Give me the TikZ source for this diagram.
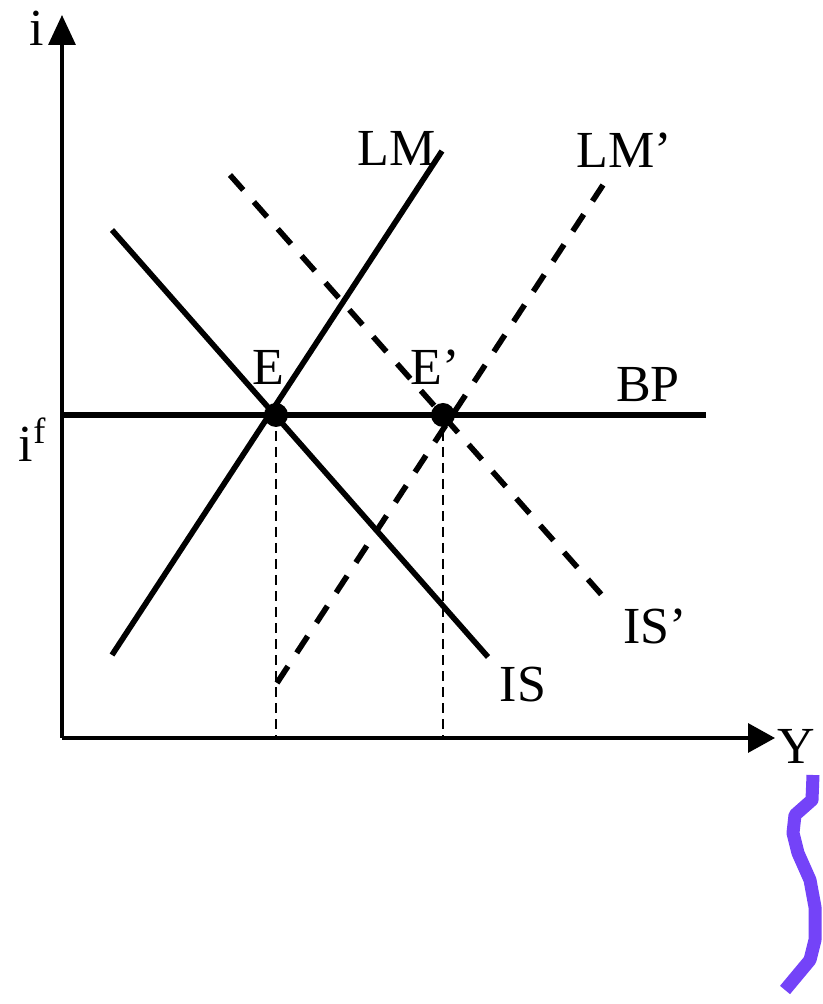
\documentclass[tikz,border=0pt]{standalone}
\usepackage{fontspec}
\setmainfont{Liberation Serif}
\usetikzlibrary{arrows.meta}
\definecolor{marker}{HTML}{7443F8}
\tikzset{
  curve/.style={line width=1.6pt},
  shifted/.style={line width=1.6pt,dash pattern=on 0.2cm off 0.16cm},
  guide/.style={line width=0.6pt,dash pattern=on 0.1cm off 0.06cm},
  eqdot/.style={circle,fill=black,inner sep=0pt,minimum size=0.24cm},
  lbl/.style={inner sep=0pt,font=\fontsize{14.8}{17}\selectfont}
}
\begin{document}
\begin{tikzpicture}
  \useasboundingbox (0,0) rectangle (8.23,10.04);
  \coordinate (O) at (0.62,2.66);
  \coordinate (Itop) at (0.62,9.89);
  \coordinate (Yend) at (7.75,2.66);
  % axes
  \draw[line width=0.95pt,-{Triangle[length=0.3cm,width=0.27cm]}] (O) -- (Itop);
  \draw[line width=0.95pt,-{Triangle[length=0.27cm,width=0.29cm]}] (O) -- (Yend);
  \node[lbl] (i) at (0.37,9.76) {i};
  \node[lbl] (y) at (7.96,2.58) {Y};
  % BP line
  \coordinate (BPa) at (0.62,5.89);
  \coordinate (BPb) at (7.06,5.89);
  \draw[curve] (BPa) -- (BPb);
  \node[lbl] (bp) at (6.48,6.19) {BP};
  \node[lbl] (if) at (0.33,5.64) {i\textsuperscript{f}};
  % IS and LM
  \coordinate (ISa) at (1.12,7.74);
  \coordinate (ISb) at (4.88,3.47);
  \coordinate (LMa) at (1.12,3.49);
  \coordinate (LMb) at (4.42,8.53);
  \draw[curve] (ISa) -- (ISb);
  \draw[curve] (LMa) -- (LMb);
  \node[lbl] (is) at (5.23,3.19) {IS};
  \node[lbl] (lm) at (3.97,8.56) {LM};
  % IS' and LM'
  \coordinate (ISpa) at (2.30,8.29);
  \coordinate (ISpb) at (6.08,4.02);
  \coordinate (LMpa) at (2.77,3.21);
  \coordinate (LMpb) at (6.03,8.19);
  \draw[shifted] (ISpa) -- (ISpb);
  \draw[shifted] (LMpa) -- (LMpb);
  \node[lbl] (isp) at (6.55,3.78) {IS’};
  \node[lbl] (lmp) at (6.24,8.54) {LM’};
  % equilibria
  \node[eqdot] (E) at (2.76,5.89) {};
  \node[eqdot] (Ep) at (4.43,5.89) {};
  \node[lbl] (e) at (2.68,6.37) {E};
  \node[lbl] (ep) at (4.35,6.37) {E’};
  \draw[guide] (E.center) -- (E.center |- O);
  \draw[guide] (Ep.center) -- (Ep.center |- O);
  % marker stroke
  \draw[marker,line width=0.13cm,line join=round]
    (8.13,2.29) -- (8.12,2.04) -- (7.95,1.89) -- (7.93,1.71) -- (7.98,1.51)
    -- (8.10,1.24) -- (8.15,0.97) -- (8.15,0.64) -- (8.10,0.44) -- (7.85,0.14);
\end{tikzpicture}
\end{document}
